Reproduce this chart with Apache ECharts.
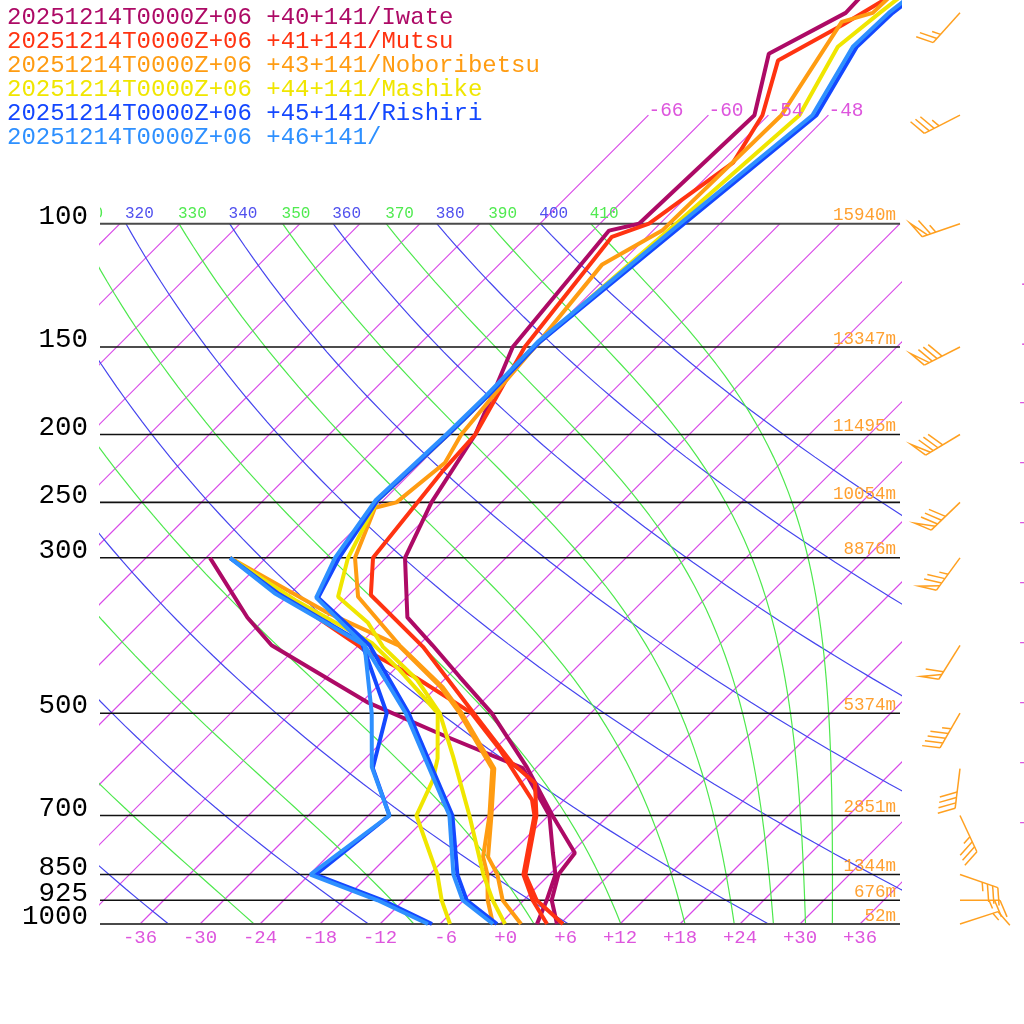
<!DOCTYPE html>
<html>
<head>
<meta charset="utf-8">
<title>Skew-T</title>
<script src="https://cdn.jsdelivr.net/npm/echarts@6/dist/echarts.min.js"></script>
<style>
html,body{margin:0;padding:0;background:#ffffff;}
#chart{width:1024px;height:1024px;}
</style>
</head>
<body>
<div id="chart"></div>
<script>
// ---------------- data ----------------
const STATIONS = [
  '20251214T0000Z+06 +40+141/Iwate',
  '20251214T0000Z+06 +41+141/Mutsu',
  '20251214T0000Z+06 +43+141/Noboribetsu',
  '20251214T0000Z+06 +44+141/Mashike',
  '20251214T0000Z+06 +45+141/Rishiri',
  '20251214T0000Z+06 +46+141/'
];
// [pressure hPa, temperature °C]
const IWATE_T = [[45,-56.7],[50,-56.5],[57.2,-60.1],[70,-55.4],[100,-56.1],[102.3,-58.4],[150,-56.4],[170,-54.2],[200,-51.4],[250,-49.0],[300,-46.1],[365,-39.9],[400,-34.6],[444,-28.7],[500,-21.9],[597,-13.0],[700,-5.6],[792,0.4],[850,0.9],[925,2.8],[1000,5.7]];
const IWATE_TD = [[300,-65.6],[365,-55.9],[400,-50.7],[483,-35.3],[539,-24.3],[599,-13.3],[700,-5.9],[792,-1.8],[850,0.6],[925,2.3],[1000,3.7]];
const MUTSU_T = [[45,-52.7],[52,-55.6],[58.5,-58.5],[70,-54.6],[81.8,-52.8],[100,-55.1],[104.4,-57.5],[150,-55.2],[200,-51.4],[226,-51.0],[300,-49.3],[339,-45.8],[402,-35.4],[500,-23.7],[589,-14.9],[629,-10.6],[700,-7.2],[850,-2.4],[925,1.3],[1000,6.3]];
const MUTSU_TD = [[300,-63.6],[393,-43.4],[406,-40.9],[445,-33.0],[500,-23.9],[564,-17.4],[665,-9.2],[700,-7.4],[850,-2.6],[925,0.9],[1000,4.7]];
const NOBORI_T = [[45,-53.6],[50,-53.8],[51.5,-56.0],[70,-52.7],[102.3,-53.1],[114.5,-55.7],[150,-54.2],[171.5,-53.6],[200,-52.8],[219.5,-51.6],[250,-52.5],[254.5,-54.1],[300,-51.1],[341,-46.9],[400,-37.9],[459,-29.4],[500,-24.9],[600,-16.1],[700,-11.7],[802,-7.9],[850,-5.2],[925,-2.1],[1000,2.1]];
const NOBORI_TD = [[300,-63.6],[358,-48.7],[400,-38.0],[459,-29.6],[500,-25.1],[600,-16.3],[700,-11.9],[802,-8.4],[850,-6.2],[925,-3.6],[1000,-0.7]];
const MASHIKE_T = [[45,-52.2],[50,-53.1],[55.9,-53.9],[70,-50.9],[100,-52.4],[124,-53.4],[147.5,-54.2],[176.7,-54.0],[200,-54.1],[248,-54.6],[300,-51.8],[341,-48.9],[371.5,-43.3],[402,-39.4],[448,-32.7],[500,-27.1],[577,-21.4],[700,-13.9],[850,-6.6],[925,-3.1],[1000,0.5]];
const MASHIKE_TD = [[300,-63.6],[344.5,-52.9],[397,-40.9],[434,-35.4],[500,-27.3],[580,-22.8],[623,-21.1],[700,-19.2],[850,-11.2],[925,-8.2],[1000,-5.0]];
const RISHIRI_T = [[45,-50.9],[50,-51.8],[55.9,-52.0],[70,-49.2],[100,-51.6],[147.5,-54.2],[176.7,-54.0],[200,-54.1],[248,-54.6],[300,-52.7],[342,-50.8],[400,-40.9],[500,-30.2],[700,-15.6],[850,-9.2],[925,-5.7],[1000,-0.3]];
const RISHIRI_TD = [[300,-63.6],[337,-55.3],[397,-41.9],[500,-32.4],[599,-28.3],[700,-21.9],[850,-23.4],[925,-14.1],[1000,-6.8]];
const N46_T = [[45,-51.3],[50,-52.2],[55.9,-52.4],[70,-49.6],[100,-52.0],[147.5,-54.4],[176.7,-54.2],[200,-54.3],[248,-54.8],[300,-53.1],[342,-51.0],[400,-41.4],[500,-30.5],[700,-15.9],[850,-9.6],[925,-6.1],[1000,-0.7]];
const N46_TD = [[300,-63.6],[337,-55.6],[400,-41.4],[500,-33.9],[597,-28.5],[700,-21.9],[850,-23.9],[925,-14.6],[1000,-7.2]];

const PRESSURE_LEVELS = [100,150,200,250,300,500,700,850,925,1000];
const PRESSURE_LABELS = ['100','150','200','250','300','500','700','850','925','1000'];
const HEIGHT_LABELS = ['15940m','13347m','11495m','10054m','8876m','5374m','2851m','1344m','676m','52m'];
const TEMP_TICKS = [-36,-30,-24,-18,-12,-6,0,6,12,18,24,30,36];
const ISOTHERMS = [-108,-102,-96,-90,-84,-78,-72,-66,-60,-54,-48,-42,-36,-30,-24,-18,-12,-6,0,6,12,18,24,30,36];
const ISOTHERMS_LABELLED = [-66,-60,-54,-48];
const ISOTHERM_EDGE_LABELS = [-12,-6,0,6,12,18,24,30,36,42];
const THETA_DRY = [240,260,280,300,320,340,360,380,400];
const THETA_MOIST = [250,270,290,310,330,350,370,390,410];
const WIND_P   = [50,70,100,150,200,250,300,400,500,600,700,850,925,1000];
const WIND_DIR = [222,243,251,243,239,226,216,212,210,187,155,109,90,72];
const WIND_SPD = [25,35,65,80,80,80,75,60,45,40,35,35,25,15];

// ---------------- styling / geometry ----------------
const FONT = "'Liberation Mono', monospace";
const COLORS = ['#ad0a66','#ff3311','#ff9c12','#f0e600','#1448ff','#2e90ff'];
const PROFILES = [[IWATE_T,IWATE_TD],[MUTSU_T,MUTSU_TD],[NOBORI_T,NOBORI_TD],[MASHIKE_T,MASHIKE_TD],[RISHIRI_T,RISHIRI_TD],[N46_T,N46_TD]];
const SKEW = 70;          // skew: °C per decade of pressure
const P_TOP = 47.93;      // pressure at top edge of plot
const P_LABEL_TOP = 70;   // labelled isotherms extend to here
const KAPPA = 0.2857;
const ISO_COLOR = '#d848e8';
const DRY_COLOR = '#4646ee';
const MOIST_COLOR = '#4ee84e';
const HEIGHT_COLOR = '#ffa030';
const BARB_COLOR = '#ffa020';

const sx = (p, T) => T + SKEW * Math.log10(1000 / p);

const CURVE_P = [];
for (let k = 0; k <= 60; k++) CURVE_P.push(1000 * Math.pow(10, -k / 60));

function thetaE(Tk, p) {
  const Tc = Tk - 273.15;
  const es = 6.112 * Math.exp(17.67 * Tc / (Tc + 243.5));
  if (es >= p * 0.8) return 1e6;
  const r = 622 * es / (p - es);
  const th = Tk * Math.pow(1000 / p, 0.2854 * (1 - 0.00028 * r));
  return th * Math.exp((3.376 / Tk - 0.00254) * r * (1 + 0.00081 * r));
}
function moistT(te, p) {
  let lo = 100, hi = 345;
  for (let i = 0; i < 60; i++) {
    const m = (lo + hi) / 2;
    if (thetaE(m, p) < te) lo = m; else hi = m;
  }
  return (lo + hi) / 2 - 273.15;
}
const dryT = (th, p) => th * Math.pow(p / 1000, KAPPA) - 273.15;

function bgLine(points, color, width, z) {
  return {
    type: 'line', silent: true, symbol: 'none', showSymbol: false, clip: true, z: z || 1,
    data: points, lineStyle: { color, width, opacity: 1 }, itemStyle: { color }, emphasis: { disabled: true }
  };
}

const series = [];
ISOTHERMS.forEach(T => {
  const top = ISOTHERMS_LABELLED.indexOf(T) >= 0 ? P_LABEL_TOP : 100;
  series.push(bgLine([[sx(1000, T), 1000], [sx(top, T), top]], ISO_COLOR, 1.15));
});
THETA_DRY.forEach(th => series.push(bgLine(CURVE_P.map(p => [sx(p, dryT(th, p)), p]), DRY_COLOR, 1.2)));
THETA_MOIST.forEach(te => series.push(bgLine(CURVE_P.map(p => [sx(p, moistT(te, p)), p]), MOIST_COLOR, 1.2)));
PRESSURE_LEVELS.forEach(p => {
  const edge = (p === 100 || p === 1000);
  series.push(bgLine([[-40, p], [40, p]], edge ? '#4a4a4a' : '#111111', edge ? 2 : 1.6, 2));
});

// text items (content from data arrays, placement computed here)
const clippedTexts = [];
THETA_DRY.forEach(th => clippedTexts.push({ x: sx(100, dryT(th, 100)), p: 100, dx: -1, dy: -10, text: String(th), color: '#5050ee', size: 16, align: 'left' }));
THETA_MOIST.forEach(te => clippedTexts.push({ x: sx(100, moistT(te, 100)), p: 100, dx: -1, dy: -10, text: String(te), color: '#50ea50', size: 16, align: 'left' }));

const freeTexts = [];
PRESSURE_LEVELS.forEach((p, i) => {
  freeTexts.push({ x: -41.2, p, dx: 0, dy: -7, text: PRESSURE_LABELS[i], color: '#000000', size: 27.5, align: 'right' });
  freeTexts.push({ x: 39.6, p, dx: 0, dy: -8, text: HEIGHT_LABELS[i], color: HEIGHT_COLOR, size: 17.5, align: 'right' });
});
ISOTHERMS_LABELLED.forEach(T => freeTexts.push({ x: sx(P_LABEL_TOP, T), p: P_LABEL_TOP, dx: 0, dy: -4, text: (T >= 0 ? '+' : '') + T, color: '#dd55dd', size: 19.5, align: 'left' }));
ISOTHERM_EDGE_LABELS.forEach(T => {
  const xs = 51.9; const p = 1000 * Math.pow(10, -(xs - T) / SKEW);
  freeTexts.push({ x: xs, p, dx: 0, dy: 0, text: (T >= 0 ? '+' : '') + T, color: '#dd55dd', size: 19.5, align: 'left' });
});

function textSeries(items, clip) {
  return {
    type: 'custom', coordinateSystem: 'cartesian2d', silent: true, clip, z: 5,
    data: items.map((it, i) => [it.x, it.p, i]),
    renderItem: (params, api) => {
      const it = items[api.value(2)];
      const pt = api.coord([api.value(0), api.value(1)]);
      return {
        type: 'text', x: pt[0] + it.dx, y: pt[1] + it.dy,
        style: { text: it.text, fill: it.color, fontSize: it.size, fontFamily: FONT, align: it.align, verticalAlign: 'middle' }
      };
    }
  };
}

function barbSeries() {
  const L = 40, FL = 18, HL = 9, SP = 5.5, ANG = 67 * Math.PI / 180;
  return {
    type: 'custom', coordinateSystem: 'cartesian2d', silent: true, clip: false, z: 6,
    data: WIND_P.map((p, i) => [46, p, i]),
    renderItem: (params, api) => {
      const i = api.value(2);
      const [x0, y0] = api.coord([api.value(0), api.value(1)]);
      const a = WIND_DIR[i] * Math.PI / 180;
      const d = [Math.sin(a), -Math.cos(a)];
      const b = [d[0] * Math.cos(ANG) - d[1] * Math.sin(ANG), d[0] * Math.sin(ANG) + d[1] * Math.cos(ANG)];
      const P = s => [x0 + d[0] * s, y0 + d[1] * s];
      const style = { stroke: BARB_COLOR, lineWidth: 1.5, fill: null };
      const ch = [{ type: 'polyline', shape: { points: [[x0, y0], P(L)] }, style }];
      let spd = Math.round(WIND_SPD[i] / 5) * 5;
      let pos = L;
      while (spd >= 50) {
        const s0 = P(pos);
        ch.push({ type: 'polyline', shape: { points: [s0, [s0[0] + b[0] * FL, s0[1] + b[1] * FL], P(pos - SP)] }, style });
        pos -= SP * 1.6; spd -= 50;
      }
      while (spd >= 10) {
        const s0 = P(pos);
        ch.push({ type: 'polyline', shape: { points: [s0, [s0[0] + b[0] * FL, s0[1] + b[1] * FL]] }, style });
        pos -= SP; spd -= 10;
      }
      if (spd >= 5) {
        if (pos === L) pos -= SP;
        const s0 = P(pos);
        ch.push({ type: 'polyline', shape: { points: [s0, [s0[0] + b[0] * HL, s0[1] + b[1] * HL]] }, style });
      }
      return { type: 'group', children: ch };
    }
  };
}

PROFILES.forEach((pr, i) => {
  pr.forEach(arr => {
    series.push({
      name: STATIONS[i], type: 'line', silent: true, symbol: 'none', showSymbol: false, clip: true, z: 3,
      data: arr.map(([p, T]) => [sx(p, T), p]),
      lineStyle: { color: COLORS[i], width: 4 }, itemStyle: { color: COLORS[i] }
    });
  });
});
series.push(textSeries(clippedTexts, true));
series.push(textSeries(freeTexts, false));
series.push(barbSeries());

const chart = echarts.init(document.getElementById('chart'), null, { renderer: 'canvas' });
chart.setOption({
  animation: false,
  backgroundColor: '#ffffff',
  grid: { left: 100, right: 124, top: 0, bottom: 100, containLabel: false },
  legend: {
    orient: 'vertical', left: -3, top: 1, itemGap: 0, itemWidth: 0, itemHeight: 24, icon: 'none', selectedMode: false,
    textStyle: { fontFamily: FONT, fontSize: 24, lineHeight: 24, padding: 0 },
    data: STATIONS.map((n, i) => ({ name: n, textStyle: { color: COLORS[i] } }))
  },
  xAxis: {
    type: 'value', min: -40, max: 40,
    axisLine: { show: false }, axisTick: { show: false }, splitLine: { show: false },
    axisLabel: {
      customValues: TEMP_TICKS, margin: 4, color: '#dd55dd', fontFamily: FONT, fontSize: 19,
      formatter: v => ((v >= 0 ? '+' : '-') + Math.abs(v)).padStart(3, ' ')
    }
  },
  yAxis: {
    type: 'log', logBase: 10, inverse: true, min: P_TOP, max: 1000,
    axisLine: { show: false }, axisTick: { show: false }, splitLine: { show: false }, axisLabel: { show: false }
  },
  series
});
</script>
</body>
</html>
